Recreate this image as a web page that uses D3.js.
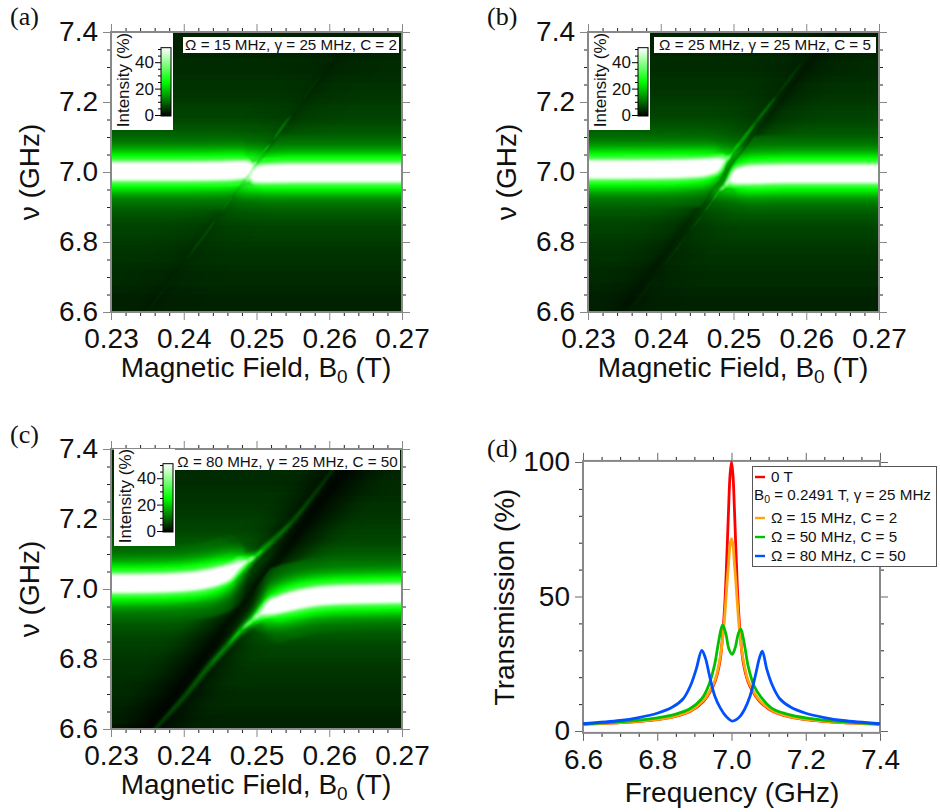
<!DOCTYPE html>
<html><head><meta charset="utf-8">
<script src="https://cdn.jsdelivr.net/npm/d3@7"></script>
<style>html,body{margin:0;padding:0;background:#fff}svg{display:block}text{font-family:"Liberation Sans",Arial,sans-serif;fill:#111}</style>
</head><body><svg id="c" width="940" height="812"></svg>
<script>
// ---- shared intensity profile
const profileLevel=[100,75,60,50,42,35,30,25,20,16,12,9,7,5.5,4.5,3.5,2.8,2];
const profileDelta=[0,.012,.018,.023,.026,.030,.036,.047,.057,.068,.085,.115,.15,.21,.28,.37,.46,.6];
const contourLevels=[3,3.25,3.5,3.75,4,4.25,4.5,4.75,5,5.25,5.5,5.85,6.2,6.6,7,7.5,8,8.5,9,9.75,10.5,11.25,12,13,14,15,16,17,18,19,20,21.25,22.5,23.75,25,26.25,27.5,28.75,30,31.25,32.5,33.75,35,36.75,38.5,40.25,42,44,46,48,50];
const cbarTicks=[0,20,40];
const cbarMinor=[5,10,15,25,30,35,45,50];
const fieldTicks=[.23,.24,.25,.26,.27];
const nuTicks=[6.6,6.8,7.0,7.2,7.4];

// ---- panel (a)
const aUpperB=[.225,.24,.245,.248,.2488,.2492,.2496,.25,.2505,.252,.255,.26,.265];
const aUpperNu=[7.002,7.002,7.003,7.006,7.009,7.012,7.02,7.03,7.045,7.085,7.17,7.31,7.45];
const aUpperGain=[1,1,1,.95,.8,.6,.32,.27,.2,.09,.05,.03,.025];
const aLowerB=[.2335,.24,.245,.247,.248,.2485,.249,.2494,.2498,.251,.255,.26,.275];
const aLowerNu=[6.557,6.74,6.88,6.935,6.96,6.973,6.985,6.988,6.992,6.995,6.997,6.997,6.997];
const aLowerGain=[.028,.04,.07,.13,.2,.27,.4,.6,.8,.95,1,1,1];
const aDarkB=[.225,.275], aDarkNu=[6.3315,7.7065];
// ---- panel (b)
const bUpperB=[.225,.24,.245,.247,.248,.2486,.249,.2495,.25,.251,.253,.256,.26,.265];
const bUpperNu=[7.007,7.008,7.011,7.016,7.022,7.03,7.037,7.045,7.06,7.085,7.14,7.22,7.33,7.47];
const bUpperGain=[1,1,.95,.85,.7,.5,.35,.27,.22,.18,.11,.065,.04,.03];
const bLowerB=[.2335,.24,.244,.246,.247,.248,.2488,.2494,.25,.251,.253,.257,.26,.275];
const bLowerNu=[6.545,6.72,6.83,6.885,6.915,6.945,6.96,6.975,6.985,6.99,6.993,6.995,6.995,6.995];
const bLowerGain=[.03,.04,.06,.09,.13,.2,.28,.45,.7,.9,1,1,1,1];
const bDarkB=[.225,.275], bDarkNu=[6.3375,7.7125];
// ---- panel (c)
const cUpperB=[.225,.235,.24,.243,.245,.2465,.2477,.2488,.2498,.251,.2525,.255,.258,.2601,.264,.266];
const cUpperNu=[7.015,7.016,7.02,7.028,7.038,7.05,7.068,7.08,7.093,7.115,7.143,7.195,7.272,7.33,7.44,7.49];
const cUpperGain=[1,1,1,1,.95,.8,.55,.35,.22,.17,.125,.09,.07,.055,.04,.04];
const cLowerB=[.2345,.2361,.24,.2435,.246,.248,.2495,.2505,.2515,.253,.255,.258,.262,.275];
const cLowerNu=[6.56,6.6,6.69,6.78,6.838,6.885,6.912,6.93,6.945,6.955,6.966,6.978,6.984,6.988];
const cLowerGain=[.06,.06,.085,.11,.14,.2,.3,.45,.7,.9,1,1,1,1];
const cDarkB=[.225,.275], cDarkNu=[6.3185,7.6935];

// ---- panel (d) transmission curves
const redNu=[6.6,6.7,6.754,6.8,6.843,6.888,6.924,6.942,6.956,6.969,6.9775,6.983,6.988,6.992,6.996,7,7.004,7.008,7.012,7.017,7.0225,7.031,7.044,7.058,7.076,7.112,7.157,7.2,7.246,7.3,7.4];
const redT=[2.5,3.1,3.6,4.2,5.2,7.2,11,14.5,18.5,26,38,50,67,82,95,100,95,82,67,50,38,26,18.5,14.5,11,7.2,5.2,4.2,3.6,3.1,2.5];
const orangeT=[2.5,3.1,3.7,4.3,5.3,7.4,11.3,15,19,27,36,45,55,62,69,71.5,69,62,55,45,36,27,19,15,11.3,7.4,5.3,4.3,3.7,3.1,2.5];
const greenNu=[6.6,6.7,6.8,6.85,6.888,6.92,6.94,6.955,6.965,6.976,6.985,6.993,7.002,7.01,7.018,7.025,7.035,7.045,7.06,7.08,7.11,7.15,7.2,7.3,7.4];
const greenT=[2.6,3.4,4.9,6.3,8.3,12,17.5,25,33,39.4,36,30.5,28.5,31,36,38,32,24,17,12.5,8.3,6.3,4.9,3.4,2.6];
const blueNu=[6.6,6.7,6.75,6.8,6.84,6.87,6.89,6.905,6.92,6.93,6.94,6.955,6.97,6.985,7.002,7.02,7.035,7.05,7.065,7.075,7.083,7.095,7.11,7.13,7.16,7.2,7.25,7.3,7.4];
const blueT=[2.7,3.9,5,6.6,8.8,12,17,23,30,27,21,13,8.5,5.5,3.7,5,8,13,21,27,29.7,23,17,12,8.8,6.6,5,3.9,2.7];
const freqTicks=[6.6,6.8,7.0,7.2,7.4];
const transTicks=[0,50,100];

const svg=d3.select("#c"), defs=svg.append("defs");
const col=d3.scaleLinear().domain([0,25,50]).range(["#000000","#00ff00","#ffffff"]).clamp(true);
const deltaOf=d3.scaleLinear().domain(profileLevel).range(profileDelta).clamp(true);
const narrow=d3.scaleLinear().domain([.05,.5]).range([.45,1]).clamp(true);
function blur(id,s){defs.append("filter").attr("id",id).attr("x","-30%").attr("y","-30%").attr("width","160%").attr("height","160%")
  .append("feGaussianBlur").attr("stdDeviation",s);}
blur("b1",1);blur("b3",3);blur("b12",12);
const seq=a=>{const r=[];for(let v=a[0];v<a[1]-1e-9;v=+(v+a[2]).toFixed(6))r.push(v);return r;};

function axes(g,x,y,xMaj,xMin,yMaj,yMin,xf,yf,stroke){
  const W=x.range()[1],B=y.range()[0],T=y.range()[1],L=x.range()[0];
  const st=(sel)=>{sel.select(".domain").remove();sel.selectAll("line").attr("stroke",stroke).attr("stroke-width",1);};
  const mk=(gen,tx)=>g.append("g").attr("transform",tx).call(gen).call(st);
  [[d3.axisBottom,`translate(0,${B})`],[d3.axisTop,`translate(0,${T})`]].forEach(([A,t],i)=>{
    mk(A(x).tickValues(xMin).tickSize(4).tickFormat(""),t).selectAll("line").attr("stroke","#222");
    const m=mk(A(x).tickValues(xMaj).tickSize(8).tickFormat(i?"":xf).tickPadding(8),t);
    m.selectAll("text").attr("font-size",28).attr("dy",i?null:"0.72em");
  });
  [[d3.axisLeft,`translate(${L},0)`],[d3.axisRight,`translate(${W},0)`]].forEach(([A,t],i)=>{
    mk(A(y).tickValues(yMin).tickSize(4).tickFormat(""),t).selectAll("line").attr("stroke","#222");
    const m=mk(A(y).tickValues(yMaj).tickSize(8).tickFormat(i?"":yf).tickPadding(5),t);
    m.selectAll("text").attr("font-size",28);
  });
  g.append("rect").attr("x",L).attr("y",T).attr("width",W-L).attr("height",B-T).attr("fill","none").attr("stroke","#888").attr("stroke-width",2);
}

function heatPanel(cfg){
  const {id,left,top,up,lo,dark,cav,darkWide,darkCore,glowMax}=cfg;
  const x=d3.scaleLinear().domain([.23,.27]).range([left,left+291]);
  const y=d3.scaleLinear().domain([6.6,7.4]).range([top+280,top]);
  const g=svg.append("g");
  defs.append("clipPath").attr("id",id+"plot").append("rect").attr("x",left).attr("y",top).attr("width",291).attr("height",280);
  const poly=(nuEdge)=>{
    const p=[[dark.b[0],dark.nu[0]],[dark.b[1],dark.nu[1]],[dark.b[1],nuEdge],[dark.b[0],nuEdge]];
    return "M"+p.map(d=>[x(d[0]),y(d[1])].join(",")).join("L")+"Z";};
  defs.append("clipPath").attr("id",id+"L").append("path").attr("d",poly(9));
  defs.append("clipPath").attr("id",id+"R").append("path").attr("d",poly(5));
  const plot=g.append("g").attr("clip-path",`url(#${id}plot)`);
  plot.append("rect").attr("x",left-5).attr("y",top-5).attr("width",301).attr("height",290).attr("fill",col(2.6));
  const drawSet=(parent,br,levels,side,cap)=>{
    const h=parent.append("g").attr("clip-path",`url(#${id}${side})`);
    const pts=br.b.map((b,i)=>({b,nu:br.nu[i],g:br.g[i]}));
    levels.forEach(L=>{
      const w=d=>{const e=L/d.g;return e>=100?0:Math.min(deltaOf(e)*narrow(d.g),cap);};
      const area=d3.area().x(d=>x(d.b)).y0(d=>y(d.nu-w(d))).y1(d=>y(d.nu+w(d))).curve(d3.curveMonotoneX);
      h.append("path").attr("d",area(pts)).attr("fill",col(L));
    });
  };
  // cavity glow (both sides of the spin line)
  const glow=plot.append("g").attr("filter","url(#b1)");
  const low=contourLevels.filter(l=>l<=glowMax);
  drawSet(glow,{b:[.225,.275],nu:[cav[0],cav[0]],g:[1,1]},low,"L",1);
  drawSet(glow,{b:[.225,.275],nu:[cav[1],cav[1]],g:[1,1]},low,"R",1);
  // spin-line absorption
  const dl=d3.line().x((d,i)=>x(dark.b[i])).y((d,i)=>y(dark.nu[i]));
  plot.append("path").attr("d",dl(dark.b)).attr("stroke","#000").attr("stroke-width",40).attr("fill","none").attr("opacity",darkWide).attr("filter","url(#b12)");
  plot.append("path").attr("d",dl(dark.b)).attr("stroke","#000").attr("stroke-width",10).attr("fill","none").attr("opacity",darkCore).attr("filter","url(#b3)");
  // hybrid branches: each pixel keeps the brighter of ridge and background
  const ridge=plot.append("g").attr("filter","url(#b1)").style("mix-blend-mode","lighten");
  drawSet(ridge,up,contourLevels,"L",.11);
  drawSet(ridge,lo,contourLevels,"R",.11);
  axes(g,x,y,fieldTicks,seq([.23,.2701,.002]).filter(v=>!fieldTicks.some(t=>Math.abs(t-v)<1e-6)),
       nuTicks,seq([6.6,7.401,.05]).filter(v=>!nuTicks.some(t=>Math.abs(t-v)<1e-6)),d3.format(".2f"),d3.format(".1f"),"#888");
  // axis titles
  const xt=g.append("text").attr("x",left+145).attr("y",top+345).attr("text-anchor","middle").attr("font-size",28);
  xt.append("tspan").text("Magnetic Field, B");
  xt.append("tspan").text("0").attr("font-size",19).attr("dy",6);
  xt.append("tspan").text(" (T)").attr("dy",-6);
  g.append("text").attr("transform",`translate(${left-72},${top+140}) rotate(-90)`).attr("text-anchor","middle").attr("font-size",28).text("ν (GHz)");
  // colour-bar inset
  const lb=cfg.legend;
  g.append("rect").attr("x",lb[0]).attr("y",lb[1]).attr("width",61).attr("height",97).attr("fill","#fff");
  const cb=d3.scaleLinear().domain([0,50]).range([lb[1]+82,lb[1]+16]);
  const gid=id+"cb";
  const gr=defs.append("linearGradient").attr("id",gid).attr("x1",0).attr("x2",0).attr("y1",1).attr("y2",0);
  [0,12.5,25,37.5,50].forEach(v=>gr.append("stop").attr("offset",v/50).attr("stop-color",col(v)));
  g.append("rect").attr("x",lb[0]+49).attr("y",cb(51)).attr("width",10).attr("height",cb(0)-cb(51)+1).attr("fill",`url(#${gid})`).attr("stroke","#000").attr("stroke-width",1);
  const ca=g.append("g").attr("transform",`translate(${lb[0]+49},0)`);
  ca.call(d3.axisLeft(cb).tickValues(cbarMinor).tickSize(3).tickFormat("")).call(s=>s.select(".domain").remove());
  const cm=g.append("g").attr("transform",`translate(${lb[0]+49},0)`);
  cm.call(d3.axisLeft(cb).tickValues(cbarTicks).tickSize(6).tickPadding(1)).call(s=>s.select(".domain").remove());
  cm.selectAll("text").attr("font-size",17);
  g.append("text").attr("transform",`translate(${lb[0]+17},${lb[1]+47}) rotate(-90)`).attr("text-anchor","middle").attr("font-size",17).text("Intensity (%)");
  // parameter label
  const t=cfg.tag;
  g.append("rect").attr("x",t.x).attr("y",t.y).attr("width",t.w).attr("height",t.h).attr("fill","#fff");
  g.append("text").attr("x",t.x+t.w/2).attr("y",t.y+t.h-3).attr("text-anchor","middle").attr("font-size",15.2).text(t.s);
}

heatPanel({id:"a",left:111,top:32,glowMax:30,darkWide:.08,darkCore:.1,cav:[7.002,6.997],
  up:{b:aUpperB,nu:aUpperNu,g:aUpperGain},lo:{b:aLowerB,nu:aLowerNu,g:aLowerGain},dark:{b:aDarkB,nu:aDarkNu},
  legend:[112,33],tag:{x:183,y:37,w:216,h:16,s:"Ω = 15 MHz, γ = 25 MHz, C = 2"}});
heatPanel({id:"b",left:588,top:32,glowMax:22.5,darkWide:.2,darkCore:.25,cav:[7.007,6.995],
  up:{b:bUpperB,nu:bUpperNu,g:bUpperGain},lo:{b:bLowerB,nu:bLowerNu,g:bLowerGain},dark:{b:bDarkB,nu:bDarkNu},
  legend:[589,33],tag:{x:654,y:37,w:222,h:16,s:"Ω = 25 MHz, γ = 25 MHz, C = 5"}});
heatPanel({id:"c",left:111,top:449,glowMax:12,darkWide:.7,darkCore:.55,cav:[7.015,6.988],
  up:{b:cUpperB,nu:cUpperNu,g:cUpperGain},lo:{b:cLowerB,nu:cLowerNu,g:cLowerGain},dark:{b:cDarkB,nu:cDarkNu},
  legend:[114,449],tag:{x:175,y:450,w:225,h:20,s:"Ω = 80 MHz, γ = 25 MHz, C = 50"}});

// ---- panel (d)
(function(){
  const x=d3.scaleLinear().domain([6.6,7.4]).range([583,880]);
  const y=d3.scaleLinear().domain([0,100]).range([731,462]);
  const g=svg.append("g");
  const yb=d3.scaleLinear().domain([-.7,100.4]).range([y(-.7),y(100.4)]);
  axes(g,x,yb,freqTicks,seq([6.6,7.401,.05]).filter(v=>!freqTicks.some(t=>Math.abs(t-v)<1e-6)),
       transTicks,seq([0,100,10]).filter(v=>!transTicks.includes(v)),d3.format(".1f"),d3.format("d"),"#666");
  const line=d3.line().x(d=>x(d[0])).y(d=>y(d[1])).curve(d3.curveCatmullRom.alpha(.5));
  const zip=(a,b)=>a.map((v,i)=>[v,b[i]]);
  [[redNu,redT,"#ff0000"],[redNu,orangeT,"#ffa510"],[greenNu,greenT,"#00c000"],[blueNu,blueT,"#0050ff"]].forEach(([a,b,c])=>{
    g.append("path").attr("d",line(zip(a,b))).attr("fill","none").attr("stroke",c).attr("stroke-width",2.8);
  });
  g.append("text").attr("x",732).attr("y",802).attr("text-anchor","middle").attr("font-size",28).text("Frequency (GHz)");
  g.append("text").attr("transform","translate(514,597) rotate(-90)").attr("text-anchor","middle").attr("font-size",28).text("Transmission (%)");
  g.append("rect").attr("x",752.5).attr("y",466.5).attr("width",184).attr("height",100).attr("fill","#fff").attr("stroke","#555").attr("stroke-width",1);
  const rows=[["#ff0000","0 T",482],["#ffa510","Ω = 15 MHz, C = 2",523],["#00c000","Ω = 50 MHz, C = 5",542],["#0050ff","Ω = 80 MHz, C = 50",561]];
  rows.forEach(([c,s,yy])=>{
    g.append("line").attr("x1",755).attr("x2",765).attr("y1",yy-5).attr("y2",yy-5).attr("stroke",c).attr("stroke-width",2.4);
    g.append("text").attr("x",771).attr("y",yy).attr("font-size",15.2).text(s);
  });
  const t=g.append("text").attr("x",754).attr("y",500).attr("font-size",15.2);
  t.append("tspan").text("B");t.append("tspan").text("0").attr("font-size",10.5).attr("dy",3);
  t.append("tspan").text(" = 0.2491 T, γ = 25 MHz").attr("dy",-3);
})();

// panel letters
[["(a)",10,25],["(b)",487,25],["(c)",10,443],["(d)",487,457]].forEach(([s,xx,yy])=>{
  svg.append("text").attr("x",xx).attr("y",yy).attr("font-size",26).style("font-family","'Liberation Serif',serif").text(s);
});
</script></body></html>
